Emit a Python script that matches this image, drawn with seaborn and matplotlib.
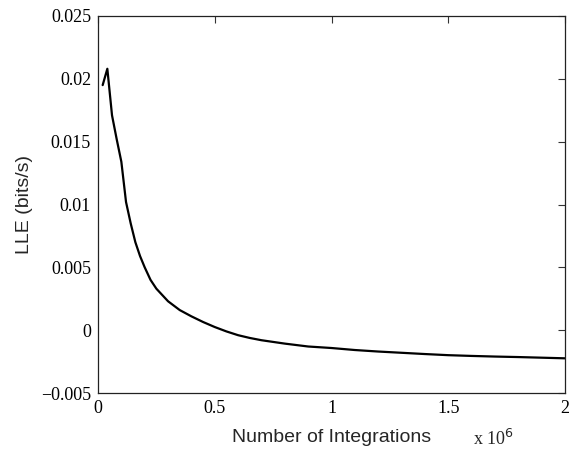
import matplotlib
matplotlib.use("Agg")
import matplotlib.pyplot as plt
import seaborn as sns
import pandas as pd

integrations = [20000, 40000, 60000, 80000, 100000, 120000, 140000, 160000, 180000, 200000,
                225000, 250000, 275000, 300000, 350000, 400000, 450000, 500000, 550000,
                600000, 650000, 700000, 800000, 900000, 1000000, 1100000, 1200000,
                1300000, 1400000, 1500000, 1600000, 1700000, 1800000, 1900000, 2000000]
lle = [0.0195, 0.0208, 0.0171, 0.0152, 0.0134, 0.0102, 0.0085, 0.0070, 0.0059, 0.0050,
       0.0040, 0.0033, 0.0028, 0.0023, 0.0016, 0.0011, 0.00065, 0.00025, -0.0001,
       -0.0004, -0.00062, -0.0008, -0.00107, -0.0013, -0.00142, -0.00158, -0.0017,
       -0.0018, -0.0019, -0.00199, -0.00205, -0.0021, -0.00214, -0.00219, -0.00224]
x_ticks = [0, 500000, 1000000, 1500000, 2000000]
x_tick_labels = ["0", "0.5", "1", "1.5", "2"]
y_ticks = [-0.005, 0, 0.005, 0.01, 0.015, 0.02, 0.025]
y_tick_labels = ["\u22120.005", "0", "0.005", "0.01", "0.015", "0.02", "0.025"]

df = pd.DataFrame({"n": integrations, "lle": lle})

sns.set_theme(style="white")
plt.rcParams["font.family"] = ["Liberation Serif", "DejaVu Serif"]

fig = plt.figure(figsize=(5.82, 4.54), dpi=100)
ax = fig.add_axes([98/582, 1-393/454, (565-98)/582, (393-16)/454])
sns.lineplot(data=df, x="n", y="lle", ax=ax, color="black", linewidth=1.6)

ax.set_xlim(0, 2000000)
ax.set_ylim(-0.005, 0.025)
ax.set_xticks(x_ticks)
ax.set_xticklabels(x_tick_labels)
ax.set_yticks(y_ticks)
ax.set_yticklabels(y_tick_labels)
ax.tick_params(direction="in", length=5, width=0.8, color="#333333", top=True, right=True,
               labelsize=13, labelcolor="black", pad=5)
for s in ax.spines.values():
    s.set_visible(True)
    s.set_color("#222222")
    s.set_linewidth(0.9)

ax.set_xlabel("Number of Integrations", family=["Liberation Sans", "DejaVu Sans"], fontsize=14, labelpad=9)
ax.set_ylabel("LLE (bits/s)", family=["Liberation Sans", "DejaVu Sans"], fontsize=14, labelpad=6)
fig.text(473/582, 1-445/454, r"x 10$^{6}$", fontsize=13, family=["Liberation Serif"], ha="left", va="baseline")

fig.savefig("out.png", dpi=100)
